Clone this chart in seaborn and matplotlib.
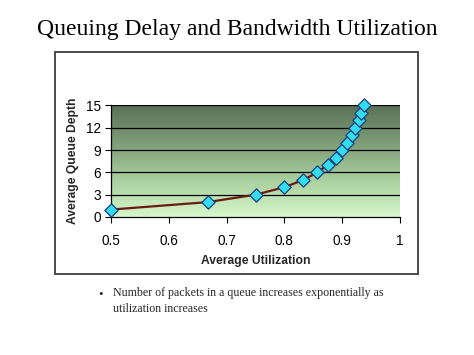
import numpy as np
import pandas as pd
import matplotlib
matplotlib.use("Agg")
import matplotlib.pyplot as plt
import seaborn as sns
from matplotlib.colors import LinearSegmentedColormap
from matplotlib.patches import Rectangle

# Data
utilization = [0.5, 0.667, 0.75, 0.8, 0.833, 0.857, 0.875, 0.889, 0.9,
               0.909, 0.917, 0.923, 0.929, 0.933, 0.9375]
queue_depth = [1, 2, 3, 4, 5, 6, 7, 8, 9, 10, 11, 12, 13, 14, 15]
x_ticks = [0.5, 0.6, 0.7, 0.8, 0.9, 1]
x_tick_labels = ["0.5", "0.6", "0.7", "0.8", "0.9", "1"]
y_ticks = [0, 3, 6, 9, 12, 15]

title = "Queuing Delay and Bandwidth Utilization"
bullet_text = "Number of packets in a queue increases exponentially as\nutilization increases"

df = pd.DataFrame({"util": utilization, "depth": queue_depth})

sns.set_theme(style="white")
plt.rcParams['font.family'] = ['Liberation Sans', 'DejaVu Sans']

fig = plt.figure(figsize=(4.74, 3.55), dpi=100)
fig.patch.set_facecolor("white")

# outer chart frame
fig.patches.append(Rectangle((55 / 474, 1 - 274 / 355), 363 / 474, 222 / 355,
                             transform=fig.transFigure, fill=False,
                             edgecolor="#4a4a4a", linewidth=1.4))

ax = fig.add_axes([111 / 474, 1 - 217 / 355, 289 / 474, 111.5 / 355])

# gradient background
cmap = LinearSegmentedColormap.from_list("g", ["#d6f8cb", "#a9cf9e", "#7d9c77", "#5b7157"])
grad = np.linspace(0, 1, 256).reshape(-1, 1)
ax.imshow(grad, extent=[0.5, 1.0, 0, 15], origin="lower", aspect="auto",
          cmap=cmap, zorder=0, interpolation="bicubic")

for yv in [3, 6, 9, 12, 15]:
    ax.axhline(yv, color="black", linewidth=0.9, zorder=1)

sns.lineplot(data=df, x="util", y="depth", ax=ax, color="#6b1a12",
             linewidth=1.6, zorder=2)
sns.scatterplot(data=df, x="util", y="depth", ax=ax, marker="D", s=46,
                color="#33dcf0", edgecolor="#1d3f7a", linewidth=0.9, zorder=3,
                clip_on=False)

ax.set_xlim(0.5, 1.0)
ax.set_ylim(0, 15)
ax.set_xticks(x_ticks)
ax.set_xticklabels(x_tick_labels)
ax.set_yticks(y_ticks)
ax.tick_params(axis="x", direction="out", length=4, width=0.8, pad=8,
               labelsize=9.8, colors="black", bottom=True)
ax.tick_params(axis="y", direction="out", length=4, width=0.8, pad=3,
               labelsize=9.8, colors="black", left=True)
for s in ["top", "right"]:
    ax.spines[s].set_visible(False)
for s in ["left", "bottom"]:
    ax.spines[s].set_color("black")
    ax.spines[s].set_linewidth(0.9)

ax.set_xlabel("Average Utilization", fontsize=8.7, fontweight="bold", labelpad=5)
ax.set_ylabel("Average Queue Depth", fontsize=8.7, fontweight="bold", labelpad=5)

fig.text(0.5, 1 - 30 / 355, title, ha="center", va="center",
         family=["Liberation Serif"], fontsize=17, color="black")
fig.text(98 / 474, 1 - 295 / 355, "•", ha="left", va="center",
         family=["Liberation Serif", "DejaVu Sans"], fontsize=9)
fig.text(113 / 474, 1 - 287 / 355, bullet_text, ha="left", va="top",
         family=["Liberation Serif"], fontsize=8.6, linespacing=1.5)

fig.savefig("out.png", dpi=100)
